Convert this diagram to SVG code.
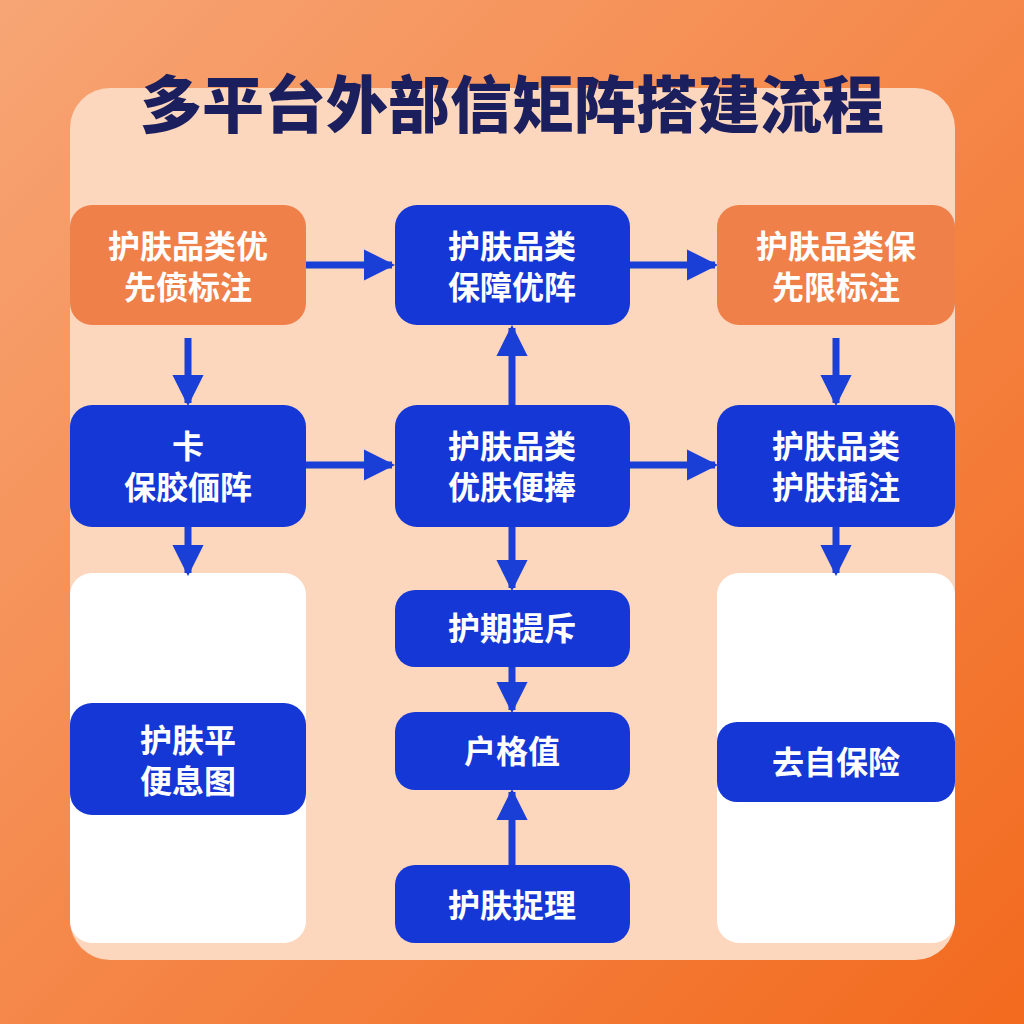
<svg xmlns="http://www.w3.org/2000/svg" width="1024" height="1024" viewBox="0 0 1024 1024">
<defs>
<linearGradient id="bg" x1="0" y1="0" x2="1" y2="1"><stop offset="0" stop-color="#f7a575"/><stop offset="1" stop-color="#f26a1e"/></linearGradient>
<marker id="ah" viewBox="0 0 10 10" refX="9" refY="5" markerWidth="4.5" markerHeight="4.5" markerUnits="strokeWidth" orient="auto"><path d="M0,0 L10,5 L0,10 z" fill="#1a3fd6"/></marker>
</defs>
<style>
.b{fill:#1537d6}.o{fill:#f0804a}.w{fill:#ffffff}
.t{font-family:"Noto Sans CJK SC","Noto Sans",sans-serif;font-weight:700;font-size:32px;fill:#fff;text-anchor:middle}
.c{stroke:#1a3fd6;stroke-width:7;fill:none;marker-end:url(#ah)}
</style>
<rect width="1024" height="1024" fill="url(#bg)"/>
<rect x="70" y="88" width="885" height="872" rx="40" fill="#fcd6bd"/>
<text x="512" y="128" text-anchor="middle" font-family="Noto Sans CJK SC,sans-serif" font-weight="900" font-size="62" fill="#1b1f5e">多平台外部信矩阵搭建流程</text>
<g id="whiteL"><rect class="w" x="70" y="573" width="236" height="370" rx="22"/></g>
<g id="whiteR"><rect class="w" x="717" y="573" width="238" height="370" rx="22"/></g>
<g id="connectors">
<line class="c" x1="306" y1="265" x2="392" y2="265"/>
<line class="c" x1="630" y1="265" x2="715" y2="265"/>
<line class="c" x1="188" y1="338" x2="188" y2="403"/>
<line class="c" x1="836" y1="338" x2="836" y2="403"/>
<line class="c" x1="306" y1="465" x2="392" y2="465"/>
<line class="c" x1="630" y1="465" x2="715" y2="465"/>
<line class="c" x1="512" y1="405" x2="512" y2="328"/>
<line class="c" x1="188" y1="527" x2="188" y2="573"/>
<line class="c" x1="836" y1="527" x2="836" y2="573"/>
<line class="c" x1="512" y1="527" x2="512" y2="588"/>
<line class="c" x1="512" y1="667" x2="512" y2="710"/>
<line class="c" x1="512" y1="865" x2="512" y2="792"/>
</g>
<g id="n1"><rect class="o" x="70" y="205" width="236" height="120" rx="22"/><text class="t" x="188" y="258">护肤品类优</text><text class="t" x="188" y="299">先偾标注</text></g>
<g id="n2"><rect class="b" x="395" y="205" width="235" height="120" rx="22"/><text class="t" x="512" y="258">护肤品类</text><text class="t" x="512" y="299">保障优阵</text></g>
<g id="n3"><rect class="o" x="717" y="205" width="238" height="120" rx="22"/><text class="t" x="836" y="258">护肤品类保</text><text class="t" x="836" y="299">先限标注</text></g>
<g id="n4"><rect class="b" x="70" y="405" width="236" height="122" rx="22"/><text class="t" x="188" y="458">卡</text><text class="t" x="188" y="499">保胶偭阵</text></g>
<g id="n5"><rect class="b" x="395" y="405" width="235" height="122" rx="22"/><text class="t" x="512" y="458">护肤品类</text><text class="t" x="512" y="499">优肤便捧</text></g>
<g id="n6"><rect class="b" x="717" y="405" width="238" height="122" rx="22"/><text class="t" x="836" y="458">护肤品类</text><text class="t" x="836" y="499">护肤插注</text></g>
<g id="n7"><rect class="b" x="70" y="703" width="236" height="112" rx="22"/><text class="t" x="188" y="752">护肤平</text><text class="t" x="188" y="793">便息图</text></g>
<g id="n8"><rect class="b" x="717" y="722" width="238" height="80" rx="20"/><text class="t" x="836" y="774">去自保险</text></g>
<g id="n9"><rect class="b" x="395" y="590" width="235" height="77" rx="20"/><text class="t" x="512" y="640">护期提斥</text></g>
<g id="n10"><rect class="b" x="395" y="712" width="235" height="78" rx="20"/><text class="t" x="512" y="763">户格值</text></g>
<g id="n11"><rect class="b" x="395" y="865" width="235" height="78" rx="20"/><text class="t" x="512" y="917">护肤捉理</text></g>
</svg>
